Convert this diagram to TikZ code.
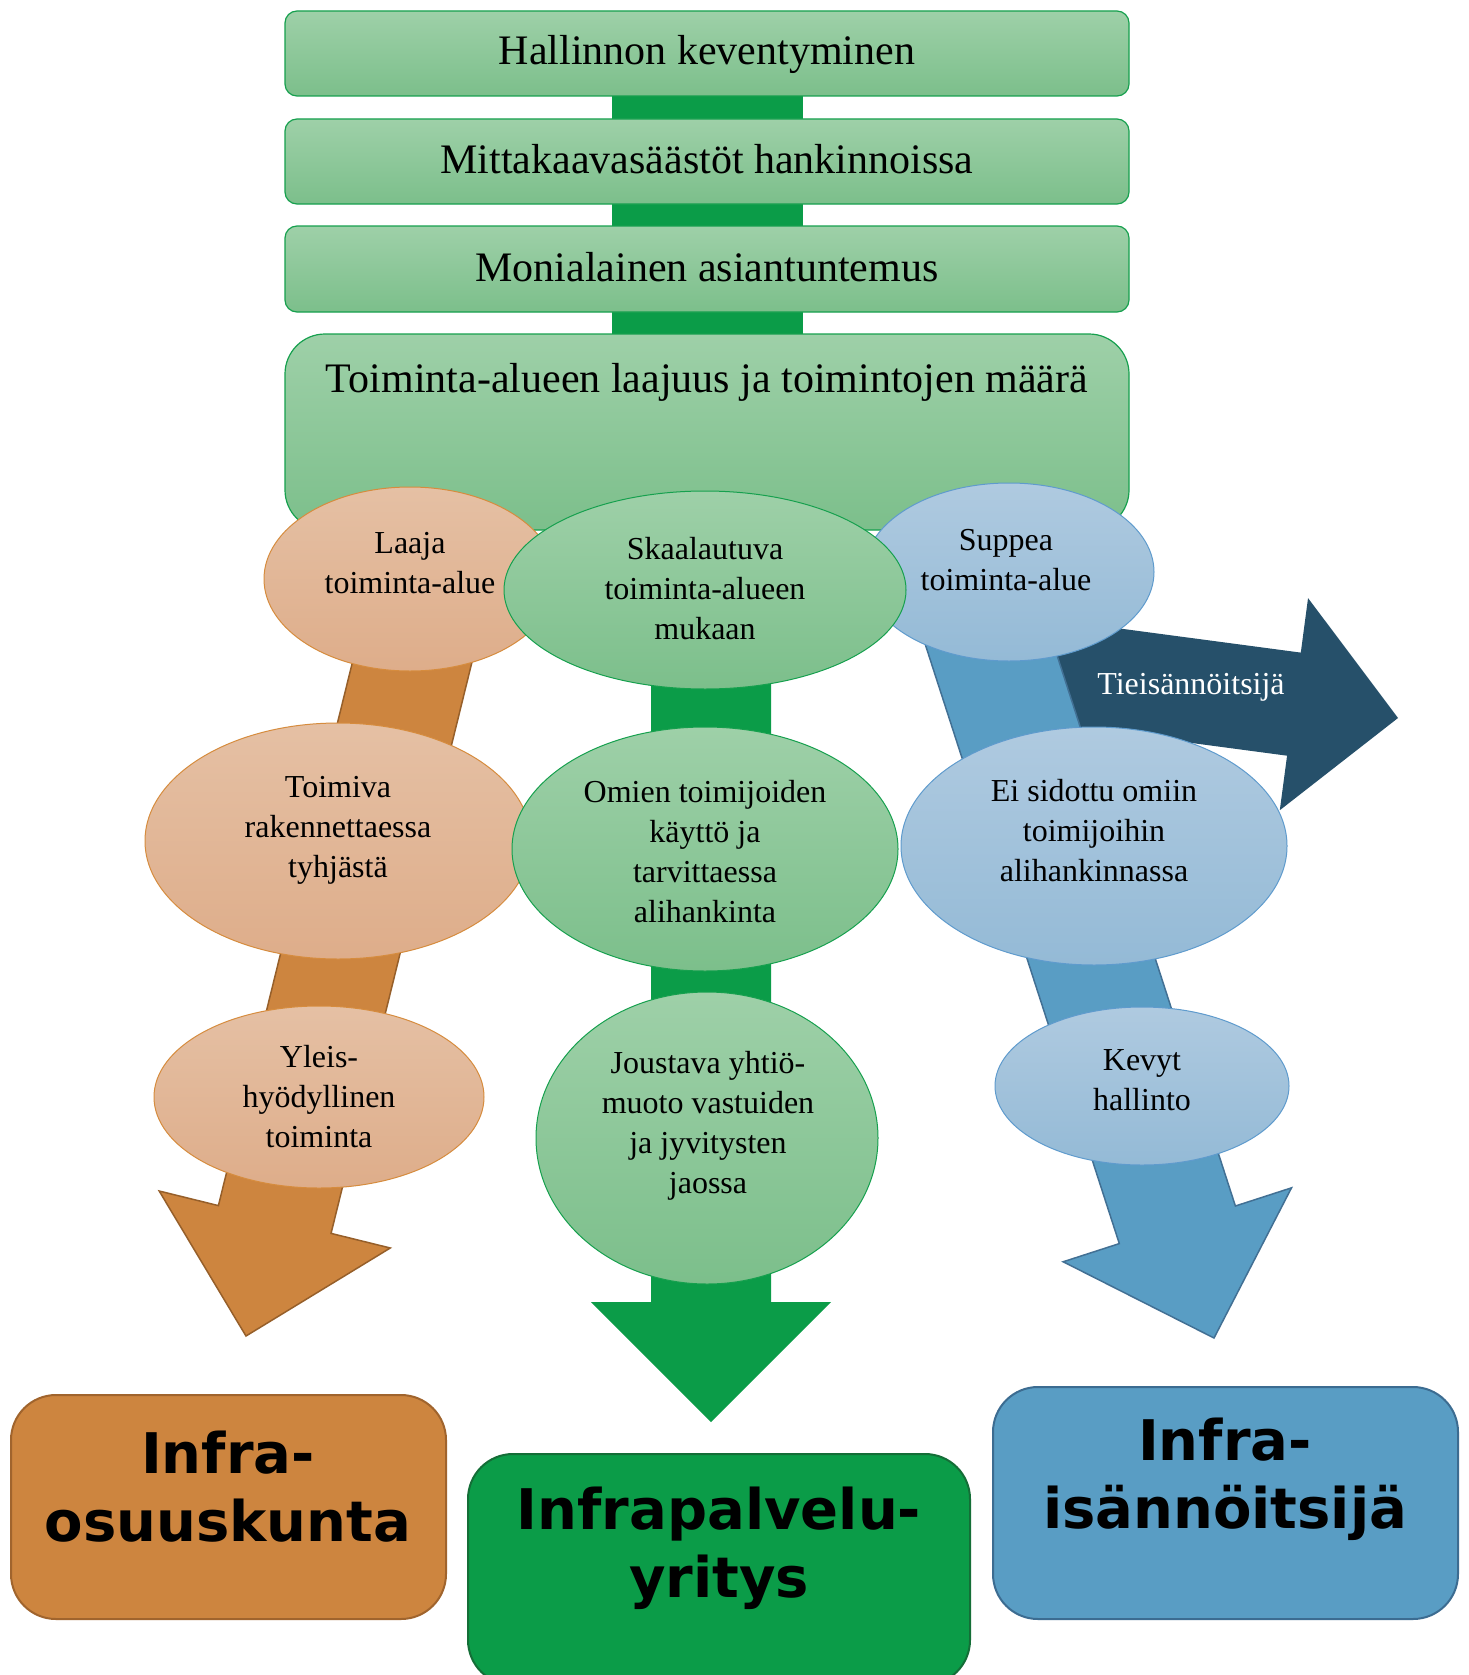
\documentclass[tikz,border=0pt]{standalone}
\usepackage{fontspec}
\setmainfont{Liberation Serif}
\newfontfamily\labfont{DejaVu Sans}
\usetikzlibrary{shapes.geometric,calc}
\definecolor{gbarc}{RGB}{11,156,72}
\definecolor{gboxtop}{RGB}{158,208,168}
\definecolor{gboxbot}{RGB}{124,191,139}
\definecolor{gboxline}{RGB}{22,160,78}
\definecolor{orarr}{RGB}{205,133,63}
\definecolor{orline}{RGB}{150,95,42}
\definecolor{oreltop}{RGB}{229,192,164}
\definecolor{orelbot}{RGB}{222,173,138}
\definecolor{orelline}{RGB}{214,140,62}
\definecolor{blarr}{RGB}{89,157,196}
\definecolor{blline}{RGB}{66,112,148}
\definecolor{bleltop}{RGB}{175,202,224}
\definecolor{blelbot}{RGB}{148,186,214}
\definecolor{blelline}{RGB}{95,155,205}
\definecolor{darr}{RGB}{38,80,106}
\definecolor{gbline}{RGB}{20,110,55}
\definecolor{obline}{RGB}{160,100,45}
\definecolor{bbline}{RGB}{60,108,145}
% start, end, shaft half width, head half width, head length, style
\newcommand\myarrow[6]{%
  \coordinate (hb) at ($(#2)!#5!(#1)$);
  \path[#6] ($(#1)!#3!90:(#2)$) -- ($(hb)!#3!90:(#2)$) -- ($(hb)!#4!90:(#2)$)
    -- (#2) -- ($(hb)!#4!-90:(#2)$) -- ($(hb)!#3!-90:(#2)$) -- ($(#1)!#3!-90:(#2)$) -- cycle;
}
\tikzset{
  gbox/.style={draw=gboxline, line width=1.2pt, top color=gboxtop, bottom color=gboxbot, rounded corners=12pt},
  ellbase/.style={shape=ellipse, inner sep=0pt, line width=1pt},
  gel/.style={ellbase, draw=gboxline, top color=gboxtop, bottom color=gboxbot},
  oel/.style={ellbase, draw=orelline, top color=oreltop, bottom color=orelbot},
  bel/.style={ellbase, draw=blelline, top color=bleltop, bottom color=blelbot},
  boxtext/.style={font=\fontsize{42}{50}\selectfont},
  eltext/.style={font=\fontsize{32}{40}\selectfont, align=center},
  bigtext/.style={font=\labfont\bfseries\fontsize{56}{68}\selectfont, align=center},
  endbox/.style={rounded corners=45pt, line width=2pt}
}
\begin{document}
\begin{tikzpicture}[x=1pt,y=-1pt]
\clip (0,0) rectangle (1468,1675);
\fill[white] (0,0) rectangle (1468,1675);
% central bar behind top boxes
\fill[gbarc] (612,60) rectangle (803,360);
% top boxes
\node[gbox, minimum width=844pt, minimum height=85pt] (b1) at (707,53.5) {};
\node[boxtext] (b1t) at (707,54) {Hallinnon keventyminen};
\node[gbox, minimum width=844pt, minimum height=85pt] (b2) at (707,161.5) {};
\node[boxtext] (b2t) at (707,159) {Mittakaavasäästöt hankinnoissa};
\node[gbox, minimum width=844pt, minimum height=86pt] (b3) at (707,269) {};
\node[boxtext] (b3t) at (707,267) {Monialainen asiantuntemus};
\node[gbox, rounded corners=40pt, minimum width=844pt, minimum height=196pt] (b4) at (707,432) {};
\node[boxtext] (b4t) at (707,382) {Toiminta-alueen laajuus ja toimintojen määrä};
% arrows
\coordinate (dS) at (970,661); \coordinate (dE) at (1398,718);
\myarrow{dS}{dE}{52pt}{107pt}{105pt}{fill=darr}
\coordinate (oS) at (430,590); \coordinate (oE) at (246,1336);
\myarrow{oS}{oE}{58pt}{119pt}{120pt}{fill=orarr, draw=orline, line width=1.5pt}
\coordinate (gS) at (711,600); \coordinate (gE) at (711,1422);
\myarrow{gS}{gE}{60pt}{120pt}{120pt}{fill=gbarc}
\coordinate (bS) at (975,600); \coordinate (bE) at (1214,1338);
\myarrow{bS}{bE}{61pt}{120pt}{119pt}{fill=blarr, draw=blline, line width=1.5pt}
\node[eltext, text=white] (dt) at (1191,687) {Tieisännöitsijä};
% ellipses row 1
\node[oel, minimum width=292pt, minimum height=184pt] (e1) at (410,579) {};
\node[eltext] (e1t) at (410,563) {Laaja\\toiminta-alue};
\node[bel, minimum width=290pt, minimum height=178pt] (e3) at (1009,572) {};
\node[eltext] (e3t) at (1006,560) {Suppea\\toiminta-alue};
\node[gel, minimum width=402pt, minimum height=198pt] (e2) at (705,590) {};
\node[eltext] (e2t) at (705,589) {Skaalautuva\\toiminta-alueen\\mukaan};
% row 2
\node[oel, minimum width=386pt, minimum height=236pt] (e4) at (338,841) {};
\node[eltext] (e4t) at (338,830) {Toimiva\\rakennettaessa\\tyhjästä};
\node[bel, minimum width=386pt, minimum height=238pt] (e6) at (1094,846) {};
\node[eltext] (e6t) at (1094,831) {Ei sidottu omiin\\toimijoihin\\alihankinnassa};
\node[gel, minimum width=386pt, minimum height=244pt] (e5) at (705,849) {};
\node[eltext] (e5t) at (705,852) {Omien toimijoiden\\käyttö ja\\tarvittaessa\\alihankinta};
% row 3
\node[oel, minimum width=330pt, minimum height=182pt] (e7) at (319,1097) {};
\node[eltext] (e7t) at (319,1097) {Yleis-\\hyödyllinen\\toiminta};
\node[bel, minimum width=294pt, minimum height=158pt] (e9) at (1142,1086) {};
\node[eltext] (e9t) at (1142,1080) {Kevyt\\hallinto};
\node[gel, minimum width=342pt, minimum height=292pt] (e8) at (707,1138) {};
\node[eltext] (e8t) at (708,1126) {Joustava yhtiö-\\muoto vastuiden\\ja jyvitysten\\jaossa};
% bottom boxes
\node[endbox, fill=orarr, draw=obline, minimum width=435pt, minimum height=224pt] (ob) at (228.5,1507) {};
\node[bigtext] (obt) at (228,1487) {Infra-\\osuuskunta};
\node[endbox, fill=gbarc, draw=gbline, minimum width=502pt, minimum height=231pt] (gb) at (719,1569.5) {};
\node[bigtext] (gbt) at (719,1548) {Infrapalvelu-\\yritys};
\node[endbox, fill=blarr, draw=bbline, minimum width=465pt, minimum height=232pt] (bb) at (1225.5,1503) {};
\node[bigtext] (bbt) at (1225,1479) {Infra-\\isännöitsijä};
\end{tikzpicture}
\end{document}
